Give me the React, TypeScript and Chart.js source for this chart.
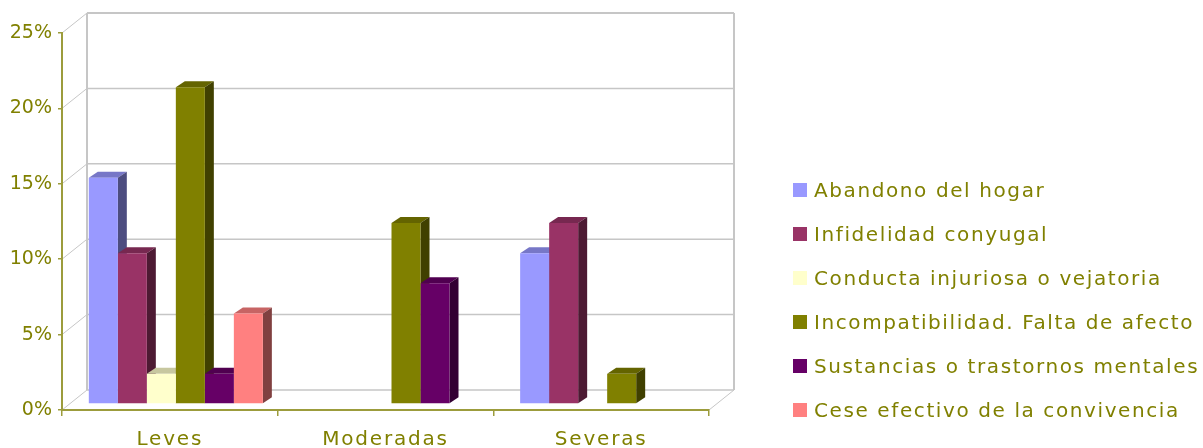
import React, { useEffect, useRef } from "react";
import { Chart, registerables } from "chart.js";

Chart.register(...registerables);

// Categories (severity) and the share of each cause in every category, in percent.
const categories = ["Leves", "Moderadas", "Severas"];
const seriesNames = [
  "Abandono del hogar",
  "Infidelidad conyugal",
  "Conducta injuriosa o vejatoria",
  "Incompatibilidad. Falta de afecto",
  "Sustancias o trastornos mentales",
  "Cese efectivo de la convivencia",
];
const abandono = [15, null, 10];
const infidelidad = [10, null, 12];
const conducta = [2, null, null];
const incompatibilidad = [21, 12, 2];
const sustancias = [2, 8, null];
const cese = [6, null, null];
const seriesColors = ["#9999FF", "#993366", "#FFFFCC", "#808000", "#660066", "#FF8080"];
const yTickValues = [0, 5, 10, 15, 20, 25];

const W = 1203;
const H = 448;
const TEXT = "#808000";
const AXIS = "#9c9c3c";
const WALL = "#c6c6c6";
const FONT = "'DejaVu Sans', sans-serif";

// Perspective offsets of the walls and of the bars.
const WALL_DX = 25;
const WALL_DY = -20;
const BAR_DX = 6;
const BAR_DY = -6;
const DEPTH_DX = 9;
const DEPTH_DY = -6;

function shade(hex: string, f: number): string {
  const n = parseInt(hex.slice(1), 16);
  const r = Math.round(((n >> 16) & 255) * f);
  const g = Math.round(((n >> 8) & 255) * f);
  const b = Math.round((n & 255) * f);
  return `rgb(${r},${g},${b})`;
}

function line(ctx: CanvasRenderingContext2D, x1: number, y1: number, x2: number, y2: number) {
  ctx.beginPath();
  ctx.moveTo(x1, y1);
  ctx.lineTo(x2, y2);
  ctx.stroke();
}

const scene3d = {
  id: "scene3d",
  afterUpdate(chart: any) {
    const sx = chart.scales.x;
    if (sx && !sx.__spaced) {
      const orig = sx.drawLabels;
      sx.drawLabels = function (area: any) {
        const c = this.ctx;
        c.save();
        c.letterSpacing = "1.8px";
        orig.call(this, area);
        c.restore();
      };
      sx.__spaced = true;
    }
  },
  beforeDraw(chart: any) {
    const { ctx, chartArea, scales } = chart;
    const y = scales.y;
    const left = chartArea.left;
    const right = chartArea.right;
    const top = y.getPixelForValue(y.max) + WALL_DY;
    const floor = y.getPixelForValue(0);
    const back = floor + WALL_DY;
    ctx.save();
    ctx.strokeStyle = WALL;
    // side wall diagonals and back wall grid lines
    y.ticks.forEach((t: any) => {
      const py = y.getPixelForValue(t.value);
      ctx.lineWidth = 1;
      line(ctx, left, py, left + WALL_DX, py + WALL_DY);
      ctx.lineWidth = t.value === y.max ? 2 : 1.5;
      line(ctx, left + WALL_DX, py + WALL_DY, right + WALL_DX, py + WALL_DY);
    });
    ctx.lineWidth = 2;
    line(ctx, left + WALL_DX, top, left + WALL_DX, back);
    line(ctx, right + WALL_DX, top, right + WALL_DX, back);
    ctx.lineWidth = 1;
    line(ctx, right, floor, right + WALL_DX, back);
    ctx.restore();
  },
  beforeDatasetsDraw(chart: any) {
    const { ctx } = chart;
    const bars: { el: any; color: string }[] = [];
    chart.data.datasets.forEach((ds: any, di: number) => {
      const meta = chart.getDatasetMeta(di);
      meta.data.forEach((el: any, i: number) => {
        if (ds.data[i] == null) return;
        bars.push({ el, color: ds.backgroundColor });
      });
    });
    bars.sort((a, b) => a.el.x - b.el.x);
    ctx.save();
    ctx.translate(BAR_DX, BAR_DY);
    bars.forEach(({ el, color }) => {
      const { x, y, base, width } = el.getProps(["x", "y", "base", "width"], true);
      const l = x - width / 2;
      const r = x + width / 2;
      // top face
      ctx.fillStyle = shade(color, 0.78);
      ctx.beginPath();
      ctx.moveTo(l, y);
      ctx.lineTo(r, y);
      ctx.lineTo(r + DEPTH_DX, y + DEPTH_DY);
      ctx.lineTo(l + DEPTH_DX, y + DEPTH_DY);
      ctx.closePath();
      ctx.fill();
      // side face
      ctx.fillStyle = shade(color, 0.5);
      ctx.beginPath();
      ctx.moveTo(r, y);
      ctx.lineTo(r + DEPTH_DX, y + DEPTH_DY);
      ctx.lineTo(r + DEPTH_DX, base + DEPTH_DY);
      ctx.lineTo(r, base);
      ctx.closePath();
      ctx.fill();
    });
    ctx.restore();
  },
  beforeDatasetDraw(chart: any) {
    chart.ctx.save();
    chart.ctx.translate(BAR_DX, BAR_DY);
  },
  afterDatasetDraw(chart: any) {
    chart.ctx.restore();
  },
  afterDraw(chart: any) {
    const { ctx } = chart;
    ctx.save();
    ctx.font = `20px ${FONT}`;
    ctx.letterSpacing = "1.6px";
    ctx.textAlign = "left";
    ctx.textBaseline = "alphabetic";
    chart.data.datasets.forEach((ds: any, i: number) => {
      const cy = 189.5 + i * 44.1;
      ctx.fillStyle = ds.backgroundColor;
      ctx.fillRect(793, Math.round(cy - 7), 14, 14);
      ctx.fillStyle = TEXT;
      ctx.fillText(ds.label, 814, cy + 7);
    });
    ctx.restore();
  },
};

export default function App() {
  const ref = useRef<HTMLCanvasElement | null>(null);

  useEffect(() => {
    if (!ref.current) return;
    const values = [abandono, infidelidad, conducta, incompatibilidad, sustancias, cese];
    const chart = new Chart(ref.current, {
      type: "bar",
      data: {
        labels: categories,
        datasets: seriesNames.map((name, i) => ({
          label: name,
          data: values[i],
          backgroundColor: seriesColors[i],
          borderWidth: 0,
          categoryPercentage: 0.807,
          barPercentage: 1,
          clip: false as any,
        })),
      },
      options: {
        animation: false,
        responsive: false,
        devicePixelRatio: 1,
        events: [],
        layout: { padding: { left: 0, top: 33, right: W - 709, bottom: 0 } },
        plugins: { legend: { display: false }, tooltip: { enabled: false } },
        scales: {
          x: {
            grid: { offset: true, drawOnChartArea: false, color: AXIS, tickLength: 6, lineWidth: 1.5 },
            border: { color: AXIS, width: 2 },
            ticks: { color: TEXT, font: { family: FONT, size: 20 }, padding: 12, maxRotation: 0 },
            afterFit: (s: any) => {
              s.height = H - 410;
            },
          },
          y: {
            min: 0,
            max: 25,
            afterBuildTicks: (s: any) => {
              s.ticks = yTickValues.map((v) => ({ value: v }));
            },
            grid: { drawOnChartArea: false, color: AXIS, tickLength: 4, lineWidth: 1.5 },
            border: { color: AXIS, width: 2 },
            ticks: {
              color: TEXT,
              font: { family: FONT, size: 19 },
              padding: 6,
              callback: (v: any) => `${v}%`,
            },
            afterFit: (s: any) => {
              s.width = 62;
            },
          },
        },
      },
      plugins: [scene3d],
    });
    return () => chart.destroy();
  }, []);

  return (
    <div style={{ position: "fixed", left: 0, top: 0, width: W, height: H, background: "#fff" }}>
      <canvas ref={ref} width={W} height={H} style={{ display: "block" }} />
    </div>
  );
}
